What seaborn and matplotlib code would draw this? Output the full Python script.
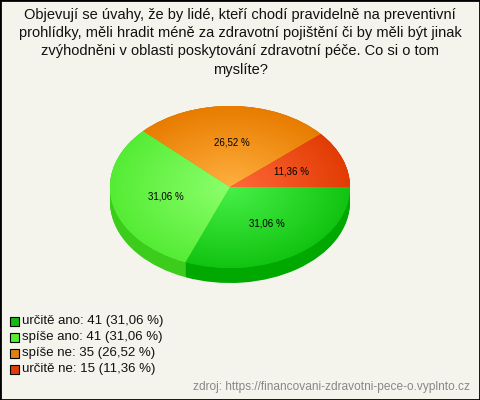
import numpy as np
import matplotlib
matplotlib.use('Agg')
import matplotlib.pyplot as plt
import seaborn as sns
from matplotlib.colors import to_rgb
from matplotlib.patches import Rectangle

# data
labels = ['určitě ano', 'spíše ano', 'spíše ne', 'určitě ne']
counts = [41, 41, 35, 15]
pct_text = ['31,06', '31,06', '26,52', '11,36']
edge_colors = ['#12c412', '#55ec35', '#e87c00', '#e23c04']
center_colors = ['#48f048', '#8cff6c', '#ffb040', '#ff6a3a']
side_colors = ['#00a800', '#3ccc1c', '#c86a00', '#c03000']
legend_colors = ['#11bb11', '#55ee33', '#e08010', '#e03c0a']

title = ('Objevují se úvahy, že by lidé, kteří chodí pravidelně na preventivní\n'
         'prohlídky, měli hradit méně za zdravotní pojištění či by měli být jinak\n'
         'zvýhodněni v oblasti poskytování zdravotní péče. Co si o tom\n'
         'myslíte?')
source = 'zdroj: https://financovani-zdravotni-pece-o.vyplnto.cz'

sns.set_theme(style='white')
plt.rcParams['font.family'] = ['Liberation Sans', 'DejaVu Sans']
bg = '#f4f3ec'

W, H = 480, 400
fig = plt.figure(figsize=(W / 100, H / 100), dpi=100, facecolor=bg)

# pie geometry in pixels
cx, cy, rx, ry, depth = 230, 187, 120, 81, 15
d = depth / ry
ax = fig.add_axes([(cx - rx) / W, (H - cy - ry - depth) / H, 2 * rx / W, (2 * ry + depth) / H])
ax.set_facecolor('none')

# side: stack shifted copies
for k in np.linspace(d, 0.0, 16):
    ax.pie(counts, colors=side_colors, startangle=0, counterclock=False,
           center=(0, -k), radius=1, wedgeprops=dict(linewidth=0))
# top surface
wedges, _ = ax.pie(counts, colors=edge_colors, startangle=0, counterclock=False,
                   center=(0, 0), radius=1, wedgeprops=dict(linewidth=0))

# radial shading on the top surface
g = np.linspace(-1, 1, 300)
xx, yy = np.meshgrid(g, g)
rr = np.clip(np.hypot(xx, yy), 0, 1)[..., None]
for w, c0, c1 in zip(wedges, center_colors, edge_colors):
    img = np.array(to_rgb(c0)) * (1 - rr) + np.array(to_rgb(c1)) * rr
    im = ax.imshow(img, extent=[-1, 1, -1, 1], origin='lower', zorder=2,
                   interpolation='bilinear')
    im.set_clip_path(w)

ax.set_aspect('auto')
ax.set_xlim(-1, 1)
ax.set_ylim(-1 - d, 1)
ax.axis('off')

# percentage labels
total = sum(counts)
ang = 0.0
for c, t in zip(counts, pct_text):
    mid = np.deg2rad(-(ang + c / total * 360 / 2))
    ang += c / total * 360
    ax.text(0.55 * np.cos(mid), 0.55 * np.sin(mid), t + ' %',
            ha='center', va='center', fontsize=7, color='black', zorder=5)

# title
fig.text(0.5, 1 - 8 / H, title, ha='center', va='top', fontsize=10.5,
         linespacing=1.38, color='#111111')

# legend
for i, (lab, n, t, col) in enumerate(zip(labels, counts, pct_text, legend_colors)):
    y = 321 + i * 16
    fig.patches.append(Rectangle((10 / W, 1 - (y + 4.5) / H), 9 / W, 9 / H,
                                 transform=fig.transFigure, facecolor=col,
                                 edgecolor='black', linewidth=0.8))
    fig.text(22 / W, 1 - y / H, f'{lab}: {n} ({t} %)', ha='left', va='center',
             fontsize=9.5, color='#111111')

fig.text(470 / W, 1 - 387 / H, source, ha='right', va='center', fontsize=8.6,
         color='#888888')

# border
fig.patches.append(Rectangle((0, 0), 1, 1, transform=fig.transFigure,
                             fill=False, edgecolor='black', linewidth=2))

fig.savefig('out.png', dpi=100, facecolor=bg)
